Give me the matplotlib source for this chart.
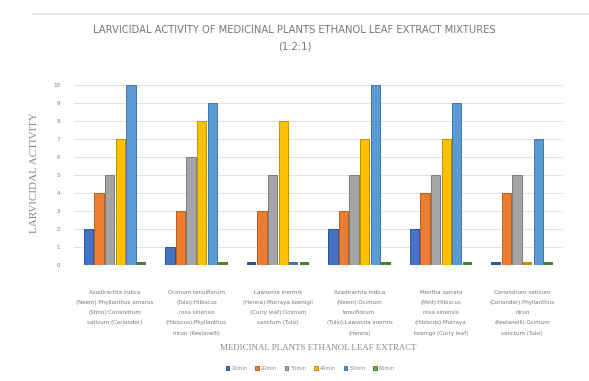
import matplotlib
matplotlib.use("Agg")
import matplotlib.pyplot as plt
import numpy as np

categories = [
    "Azadirachta indica\n(Neem):Phyllanthus amarus\n(Stinn):Coriandrum\nsativum (Coriander)",
    "Ocimum tenuiflorum\n(Tulsi):Hibiscus\nrosa sinensis\n(Hibiscus):Phyllanthus\nniruri (Keelanelli)",
    "Lawsonia inermis\n(Henna):Murraya koenigii\n(Curry leaf):Ocimum\nsanctum (Tulsi)",
    "Azadirachta indica\n(Neem):Ocimum\ntenuiflorum\n(Tulsi):Lawsonia inermis\n(Henna)",
    "Mentha spicata\n(Mint):Hibiscus\nrosa sinensis\n(Hibiscus):Murraya\nkoenigii (Curry leaf)",
    "Coriandrum sativum\n(Coriander):Phyllanthus\nniruri\n(Keelanelli):Ocimum\nsanctum (Tulsi)",
]
series_names = ["10min", "20min", "30min", "40min", "50min", "60min"]
values = {
    "10min": [2, 1, 0, 2, 2, 0],
    "20min": [4, 3, 3, 3, 4, 4],
    "30min": [5, 6, 5, 5, 5, 5],
    "40min": [7, 8, 8, 7, 7, 0],
    "50min": [10, 9, 0, 10, 9, 7],
    "60min": [0, 0, 0, 0, 0, 0],
}
y_ticks = list(range(0, 11))
colors = ["#4472C4", "#ED7D31", "#A5A5A5", "#FFC000", "#5B9BD5", "#70AD47"]
edges = ["#2F5597", "#B85F22", "#7B7B7B", "#BF9000", "#3C76AA", "#507E32"]

fig = plt.figure(figsize=(5.89, 3.81), dpi=100)
ax = fig.add_axes([0.126, 0.305, 0.83, 0.485])

x = np.arange(len(categories))
w = 0.13
for i, s in enumerate(series_names):
    ax.bar(x + (i - 2.5) * w, values[s], width=w * 0.88, color=colors[i],
           edgecolor=edges[i], linewidth=0.7, label=s, zorder=3)
    # baseline slab for the 3D look (zero-height bars still visible)
    ax.bar(x + (i - 2.5) * w, [0.14] * len(categories), width=w * 0.88,
           color=edges[i], linewidth=0, zorder=2)

ax.set_xlim(-0.5, len(categories) - 0.5)
ax.set_ylim(0, 10.25)
ax.set_yticks(y_ticks)
ax.set_yticklabels([str(t) for t in y_ticks], fontsize=4, color="#777777")
ax.grid(axis="y", color="#DDDDDD", linewidth=0.6, zorder=0)
for sp in ax.spines.values():
    sp.set_visible(False)
ax.tick_params(axis="y", length=0, pad=10)
ax.tick_params(axis="x", length=0, pad=18)
ax.set_xticks(x)
ax.set_xticklabels(categories, fontsize=4.0, color="#777777", linespacing=2.3)

ax.set_ylabel("LARVICIDAL ACTIVITY", fontsize=8, color="#888888",
              family="Liberation Serif", labelpad=10)
ax.set_xlabel("MEDICINAL PLANTS ETHANOL LEAF EXTRACT", fontsize=6.4,
              color="#888888", family="Liberation Serif", labelpad=6)

fig.text(0.5, 0.921, "LARVICIDAL ACTIVITY OF MEDICINAL PLANTS ETHANOL LEAF EXTRACT MIXTURES",
         ha="center", va="center", fontsize=7.2, color="#777777",
         family="Liberation Sans Narrow")
fig.text(0.5, 0.879, "(1:2:1)", ha="center", va="center", fontsize=7.2,
         color="#777777", family="Liberation Sans Narrow")

fig.add_artist(plt.Line2D([0.055, 1.0], [0.963, 0.963], color="#E6E6E6", linewidth=1.2))

leg = fig.legend(loc="center", bbox_to_anchor=(0.527, 0.034), ncol=6,
                 fontsize=3.6, frameon=False, handlelength=0.7, handleheight=0.7,
                 columnspacing=1.6, handletextpad=0.4)
for t in leg.get_texts():
    t.set_color("#888888")

fig.savefig("out.png", dpi=100, facecolor="white")
